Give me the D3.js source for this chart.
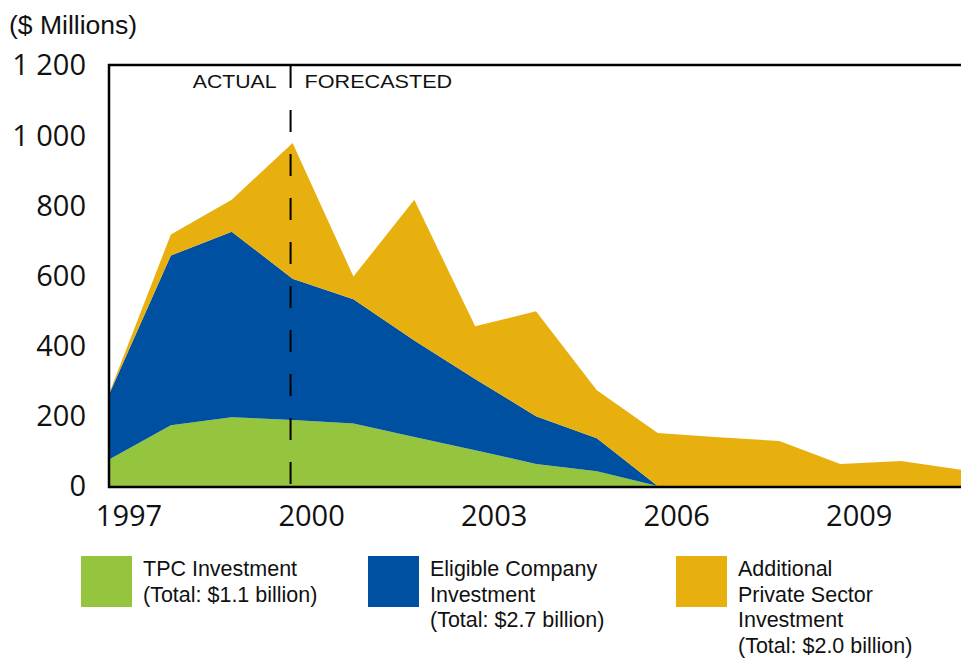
<!DOCTYPE html>
<html>
<head>
<meta charset="utf-8">
<script src="https://cdn.jsdelivr.net/npm/d3@7"></script>
<style>
  body { margin: 0; background: #fff; }
  svg { display: block; }
</style>
</head>
<body>
<svg id="chart" width="961" height="658"></svg>
<script>
(function () {
  // ---------- Data ($ millions) ----------
  const years = [1997, 1998, 1999, 2000, 2001, 2002, 2003, 2004, 2005, 2006, 2007, 2008, 2009, 2010, 2011];
  const tpcInvestment =      [77, 173, 196, 188, 178, 140, 102, 63, 42, 0, 0, 0, 0, 0, 0];
  const eligibleInvestment = [190, 484, 529, 403, 354, 275, 203, 136, 94, 0, 0, 0, 0, 0, 0];
  const privateInvestment =  [3, 60, 91, 387, 65, 401, 150, 299, 137, 151, 139, 128, 63, 71, 46];

  const yTicks = [0, 200, 400, 600, 800, 1000, 1200];
  const xTicks = [1997, 2000, 2003, 2006, 2009];
  const splitYear = 2000;

  const seriesKeys = ["tpc", "eligible", "private"];
  const seriesColors = { tpc: "#95C53E", eligible: "#0050A2", private: "#E8B00E" };
  const legendLines = {
    tpc: ["TPC Investment", "(Total: $1.1 billion)"],
    eligible: ["Eligible Company", "Investment", "(Total: $2.7 billion)"],
    private: ["Additional", "Private Sector", "Investment", "(Total: $2.0 billion)"]
  };

  const rows = years.map((yr, i) => ({
    year: yr,
    tpc: tpcInvestment[i],
    eligible: eligibleInvestment[i],
    private: privateInvestment[i]
  }));

  // ---------- Layout ----------
  const svg = d3.select("#chart");
  const plot = { left: 110, right: 962, top: 65, bottom: 486 };

  const x = d3.scaleLinear().domain([1997, 2011]).range([plot.left, plot.right]);
  const y = d3.scaleLinear().domain([0, 1200]).range([plot.bottom, plot.top]);

  const stacked = d3.stack().keys(seriesKeys)(rows);

  const area = d3.area()
    .x(d => x(d.data.year))
    .y0(d => y(d[0]))
    .y1(d => y(d[1]));

  svg.append("g")
    .selectAll("path")
    .data(stacked)
    .join("path")
    .attr("fill", d => seriesColors[d.key])
    .attr("d", area);

  // frame: top, left, bottom
  svg.append("path")
    .attr("fill", "none")
    .attr("stroke", "#000")
    .attr("stroke-width", 2.5)
    .attr("d", `M${plot.right},${plot.top}H${plot.left - 1}V${plot.bottom + 1}H${plot.right}`);

  // actual / forecasted divider
  const xSplit = x(splitYear) - 2;
  svg.append("line")
    .attr("x1", xSplit).attr("x2", xSplit)
    .attr("y1", plot.top + 1).attr("y2", plot.bottom)
    .attr("stroke", "#000")
    .attr("stroke-width", 2)
    .attr("stroke-dasharray", "22,22");

  const annot = svg.append("g")
    .style("font-family", "'Liberation Sans', Arial, sans-serif")
    .style("font-size", "18px")
    .attr("fill", "#111");
  annot.append("text")
    .attr("transform", `translate(${xSplit - 14},88) scale(1.18,1)`)
    .attr("text-anchor", "end")
    .text("ACTUAL");
  annot.append("text")
    .attr("transform", `translate(${xSplit + 14},88) scale(1.2,1)`)
    .text("FORECASTED");

  // ---------- Axis labels ----------
  svg.append("text")
    .attr("x", 9)
    .attr("y", 34)
    .style("font-family", "'Liberation Sans', Arial, sans-serif")
    .style("font-size", "26.5px")
    .attr("fill", "#111")
    .text("($ Millions)");

  const fmt = d => d3.format(",")(d).replace(",", " ");

  svg.append("g")
    .selectAll("text")
    .data(yTicks)
    .join("text")
    .attr("x", 86)
    .attr("y", d => y(d))
    .attr("dy", "0.36em")
    .attr("text-anchor", "end")
    .style("font-family", "'Open Sans', 'Noto Sans', sans-serif")
    .style("font-size", "29px")
    .attr("fill", "#111")
    .text(fmt);

  svg.append("g")
    .selectAll("text")
    .data(xTicks)
    .join("text")
    .attr("x", d => x(d) + 19)
    .attr("y", 526)
    .attr("text-anchor", "middle")
    .style("font-family", "'Open Sans', 'Noto Sans', sans-serif")
    .style("font-size", "29px")
    .attr("fill", "#111")
    .text(d => d);

  // ---------- Legend ----------
  const legendX = { tpc: 81, eligible: 368, private: 676 };
  const legend = svg.append("g")
    .style("font-family", "'Liberation Sans', Arial, sans-serif")
    .style("font-size", "21.5px");

  seriesKeys.forEach(key => {
    const g = legend.append("g").attr("transform", `translate(${legendX[key]},556)`);
    g.append("rect")
      .attr("width", 51)
      .attr("height", 51)
      .attr("fill", seriesColors[key]);
    g.selectAll("text")
      .data(legendLines[key])
      .join("text")
      .attr("transform", (d, i) => `translate(62,${20 + i * 25.5}) scale(1,1.04)`)
      .attr("fill", "#111")
      .text(d => d);
  });
})();
</script>
</body>
</html>
